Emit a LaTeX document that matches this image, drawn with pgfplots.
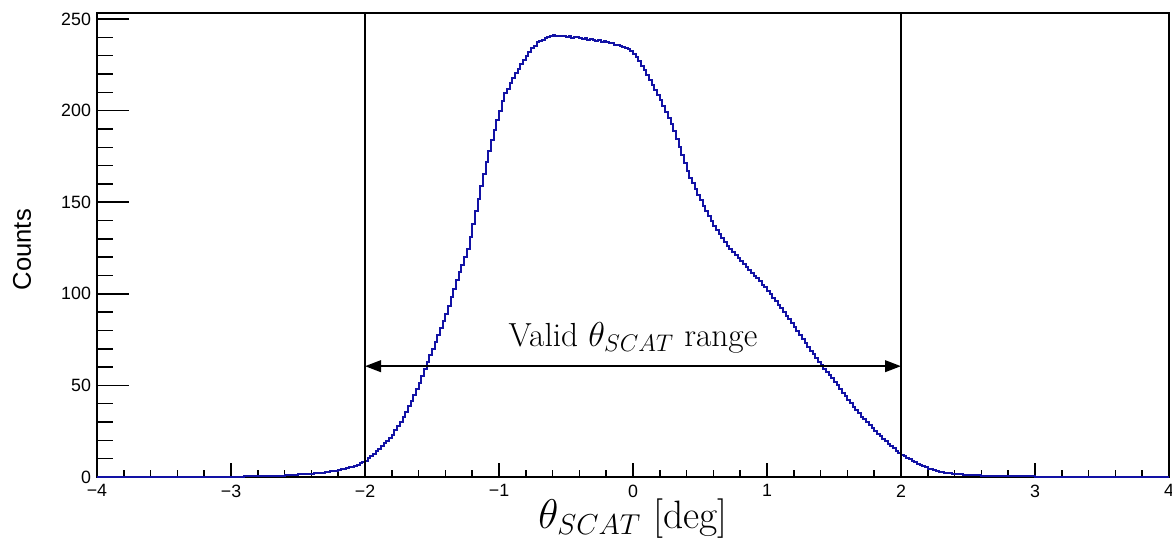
\documentclass[border=0pt]{standalone}
\usepackage{fontspec}
\usepackage{pgfplots}
\pgfplotsset{compat=1.18}
\usetikzlibrary{arrows.meta}
\newfontfamily\arial{Liberation Sans}
\definecolor{histblue}{RGB}{18,18,165}

% theta_SCAT histogram: left bin edge, counts
\pgfplotstableread{
x y
-4.00 0.00
-3.80 0.03
-3.60 0.06
-3.40 0.10
-3.20 0.15
-3.00 0.25
-2.90 0.40
-2.80 0.55
-2.70 0.80
-2.60 1.10
-2.58 1.15
-2.56 1.20
-2.54 1.30
-2.52 1.35
-2.50 1.40
-2.48 1.50
-2.46 1.55
-2.44 1.65
-2.42 1.70
-2.40 1.80
-2.38 1.95
-2.36 2.10
-2.34 2.30
-2.32 2.45
-2.30 2.60
-2.28 2.80
-2.26 3.05
-2.24 3.30
-2.22 3.55
-2.20 3.80
-2.18 4.10
-2.16 4.50
-2.14 4.85
-2.12 5.20
-2.10 5.60
-2.08 6.20
-2.06 6.80
-2.04 7.50
-2.02 8.20
-2.00 9.00
-1.98 10.2
-1.96 11.5
-1.94 12.8
-1.92 14.1
-1.90 15.5
-1.88 16.9
-1.86 18.3
-1.84 19.8
-1.82 21.4
-1.80 23.0
-1.78 25.4
-1.76 27.8
-1.74 30.3
-1.72 32.7
-1.70 35.5
-1.68 38.5
-1.66 41.6
-1.64 44.8
-1.62 48.1
-1.60 51.5
-1.58 55.2
-1.56 59.0
-1.54 62.7
-1.52 66.4
-1.50 70.0
-1.48 73.8
-1.46 77.6
-1.44 81.4
-1.42 85.2
-1.40 89.0
-1.38 93.5
-1.36 98.0
-1.34 102.7
-1.32 107.4
-1.30 112.0
-1.28 116.0
-1.26 120.0
-1.24 124.5
-1.22 131.0
-1.20 138.0
-1.18 145.0
-1.16 152.0
-1.14 159.0
-1.12 165.5
-1.10 172.0
-1.08 178.0
-1.06 184.0
-1.04 189.5
-1.02 195.0
-1.00 200.0
-0.98 205.5
-0.96 209.5
-0.94 212.0
-0.92 215.0
-0.90 218.0
-0.88 220.5
-0.86 223.0
-0.84 225.5
-0.82 227.5
-0.80 230.0
-0.78 232.0
-0.76 234.0
-0.74 235.5
-0.72 237.5
-0.70 238.2
-0.68 238.8
-0.66 239.5
-0.64 240.0
-0.62 240.5
-0.60 241.3
-0.58 240.6
-0.56 240.9
-0.54 240.5
-0.52 240.6
-0.50 240.3
-0.48 240.5
-0.46 239.8
-0.44 240.2
-0.42 240.0
-0.40 239.4
-0.38 239.0
-0.36 239.5
-0.34 238.6
-0.32 238.9
-0.30 238.4
-0.28 238.0
-0.26 238.5
-0.24 237.6
-0.22 237.8
-0.20 237.3
-0.18 236.7
-0.16 236.9
-0.14 236.1
-0.12 235.8
-0.10 235.4
-0.08 234.6
-0.06 234.0
-0.04 233.5
-0.02 232.4
0.00 231.0
0.02 229.2
0.04 227.0
0.06 224.6
0.08 222.1
0.10 219.5
0.12 216.8
0.14 214.0
0.16 211.0
0.18 208.3
0.20 205.8
0.22 202.3
0.24 199.0
0.26 195.8
0.28 192.5
0.30 189.0
0.32 184.5
0.34 180.0
0.36 175.8
0.38 171.4
0.40 167.0
0.42 163.5
0.44 160.3
0.46 157.2
0.48 154.0
0.50 151.0
0.52 148.2
0.54 145.4
0.56 142.6
0.58 139.8
0.60 137.0
0.62 134.7
0.64 132.5
0.66 130.3
0.68 128.1
0.70 126.0
0.72 124.3
0.74 122.7
0.76 121.1
0.78 119.5
0.80 118.0
0.82 116.4
0.84 114.8
0.86 113.2
0.88 111.6
0.90 110.0
0.92 108.4
0.94 106.8
0.96 105.0
0.98 103.5
1.00 101.8
1.02 99.9
1.04 97.9
1.06 95.9
1.08 93.9
1.10 92.0
1.12 90.0
1.14 88.0
1.16 86.0
1.18 84.0
1.20 82.0
1.22 79.8
1.24 77.6
1.26 75.4
1.28 73.2
1.30 71.0
1.32 69.0
1.34 67.0
1.36 65.0
1.38 63.0
1.40 61.0
1.42 59.2
1.44 57.4
1.46 55.6
1.48 53.8
1.50 52.0
1.52 50.0
1.54 48.0
1.56 46.0
1.58 44.0
1.60 42.0
1.62 40.2
1.64 38.4
1.66 36.6
1.68 34.8
1.70 33.0
1.72 31.4
1.74 29.8
1.76 28.2
1.78 26.6
1.80 25.0
1.82 23.6
1.84 22.2
1.86 20.8
1.88 19.4
1.90 18.0
1.92 16.8
1.94 15.6
1.96 14.4
1.98 13.2
2.00 12.0
2.02 11.2
2.04 10.4
2.06 9.6
2.08 8.8
2.10 8.0
2.12 7.3
2.14 6.6
2.16 5.9
2.18 5.2
2.20 4.5
2.22 4.1
2.24 3.7
2.26 3.3
2.28 2.9
2.30 2.6
2.32 2.4
2.34 2.2
2.36 2.0
2.38 1.8
2.40 1.6
2.42 1.5
2.44 1.4
2.46 1.3
2.48 1.2
2.50 1.1
2.52 1.05
2.54 0.95
2.56 0.90
2.58 0.85
2.60 0.80
2.70 0.60
2.80 0.45
2.90 0.30
3.00 0.22
3.20 0.15
3.40 0.08
3.60 0.04
3.80 0.02
4.00 0.02
}\thetascat

\begin{document}
\begin{tikzpicture}
\pgfplotsset{
  frame/.style={
    scale only axis, width=536pt, height=232pt,
    xmin=-4, xmax=4, ymin=0, ymax=253.3,
    axis line style={black, line width=0.8pt},
    tick align=inside,
    every tick/.style={black, line width=0.75pt},
    ticklabel style={font=\arial\fontsize{8.9}{10}\selectfont},
  },
}
% x axis: short ticks on the bottom edge
\begin{axis}[frame,
  xtick={-4,...,4},
  xticklabels={−4,−3,−2,−1,0,1,2,3,4},
  minor x tick num=4,
  xtick pos=bottom,
  major tick length=6.8pt, minor tick length=3.4pt,
  ytick=\empty,
  xticklabel style={yshift=-0.3pt},
  xlabel={$\theta_{SCAT}$ [deg]},
  xlabel style={font=\fontsize{19.8}{23}\selectfont,
    at={(axis description cs:0.5,0)}, anchor=base, yshift=-25.5pt},
]
\end{axis}
% y axis, histogram and the valid range
\begin{axis}[frame,
  ytick={0,50,...,250},
  yticklabels={0,50,100,150,200,250},
  minor y tick num=4,
  ytick pos=left,
  major tick length=16pt, minor tick length=8pt,
  xtick=\empty,
  yticklabel style={xshift=0.5pt},
  clip=false,
]
\addplot[histblue, line width=1pt, const plot mark left] table[x=x, y=y] {\thetascat};
\addplot[black, line width=1pt] coordinates {(-2,0) (-2,253.3)};
\addplot[black, line width=1pt] coordinates {(2,0) (2,253.3)};
\draw[black, line width=1pt, {Triangle[length=8pt,width=5.8pt]}-{Triangle[length=8pt,width=5.8pt]}]
  (axis cs:-2,60.5) -- (axis cs:2,60.5);
\node[anchor=base, font=\fontsize{16.7}{20}\selectfont] at (axis cs:0,71.2)
  {Valid $\theta_{SCAT}$ range};
\node[rotate=90, font=\arial\fontsize{12.8}{15}\selectfont] at ([xshift=-37.5pt]rel axis cs:0,0.49) {Counts};
\coordinate (sw) at (rel axis cs:0,0);
\coordinate (ne) at (rel axis cs:1,1);
\end{axis}
% the page is the frame plus the margins for labels
\pgfresetboundingbox
\useasboundingbox ([xshift=-48.5pt,yshift=-33pt]sw) rectangle ([xshift=1.5pt,yshift=6.5pt]ne);
\end{tikzpicture}
\end{document}
